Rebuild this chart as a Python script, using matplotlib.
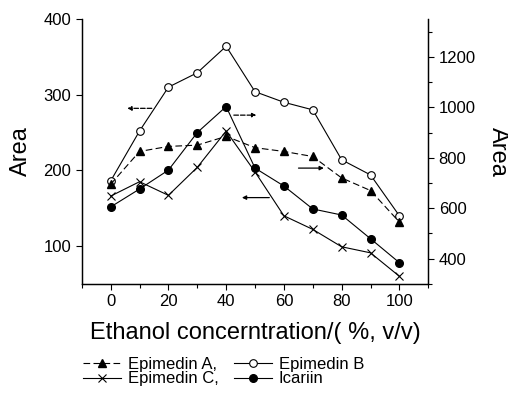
import numpy as np
import matplotlib.pyplot as plt
from matplotlib.lines import Line2D
from matplotlib.ticker import MultipleLocator

plt.rcParams['font.family'] = ['Liberation Sans', 'DejaVu Sans']

# ethanol concentration (% v/v)
ethanol = [0, 10, 20, 30, 40, 50, 60, 70, 80, 90, 100]
# peak areas, left axis
epimedin_b = [186, 252, 310, 329, 364, 304, 290, 280, 214, 194, 140]
epimedin_c = [166, 185, 167, 204, 252, 198, 140, 122, 99, 91, 60]
# peak areas, right axis
epimedin_a = [695, 825, 845, 850, 885, 840, 825, 805, 720, 670, 545]
icariin = [605, 676, 751, 900, 1003, 759, 688, 597, 573, 479, 384]

fig = plt.figure(figsize=(5.08, 3.97), dpi=100)
ax1 = fig.add_axes([0.161, 0.285, 0.682, 0.667])
ax2 = ax1.twinx()

lw = 0.8
ax1.plot(ethanol, epimedin_b, color='black', lw=lw, marker='o', ms=5.5,
         mfc='white', mec='black', mew=0.8)
ax1.plot(ethanol, epimedin_c, color='black', lw=lw, marker='x', ms=6, mew=0.8)
ax2.plot(ethanol, epimedin_a, color='black', lw=lw, ls=(0, (6, 3)),
         marker='^', ms=6)
ax2.plot(ethanol, icariin, color='black', lw=lw, marker='o', ms=5.5)

# arrows showing which axis each curve belongs to
arr = dict(arrowstyle='-|>', color='black', lw=0.9, mutation_scale=6)
ax1.annotate('', xy=(4.8, 282), xytext=(15.2, 282), arrowprops=dict(arr, ls='--'))
ax1.annotate('', xy=(51.4, 273), xytext=(41.7, 273), arrowprops=dict(arr, ls='--'))
ax1.annotate('', xy=(74.8, 203), xytext=(64.1, 203), arrowprops=arr)
ax1.annotate('', xy=(44.5, 164), xytext=(55.9, 164), arrowprops=arr)

ax1.set_xlim(-10, 110)
ax1.set_ylim(50, 400)
ax2.set_ylim(300, 1350)

ax1.xaxis.set_major_locator(MultipleLocator(20))
ax1.xaxis.set_minor_locator(MultipleLocator(10))
ax1.yaxis.set_major_locator(MultipleLocator(100))
ax2.yaxis.set_major_locator(MultipleLocator(200))
ax2.yaxis.set_minor_locator(MultipleLocator(100))

for ax in (ax1, ax2):
    ax.spines['top'].set_visible(False)
    ax.tick_params(labelsize=12, length=4, width=0.8)
    ax.tick_params(which='minor', length=3, width=0.8)
    for s in ax.spines.values():
        s.set_linewidth(0.9)

ax1.set_xlabel('Ethanol concerntration/( %, v/v)', fontsize=17, labelpad=9)
ax1.set_ylabel('Area', fontsize=17, labelpad=8)
ax2.set_ylabel('Area', fontsize=17, rotation=270, labelpad=24)

handles = [
    Line2D([], [], color='black', lw=lw, ls=(0, (6, 3)), marker='^', ms=6),
    Line2D([], [], color='black', lw=lw, marker='x', ms=6, mew=0.8),
    Line2D([], [], color='black', lw=lw, marker='o', ms=5.5, mfc='white', mew=0.8),
    Line2D([], [], color='black', lw=lw, marker='o', ms=5.5),
]
labels = ['Epimedin A,', 'Epimedin C,', 'Epimedin B', 'Icariin']
fig.legend(handles, labels, ncol=2, loc='upper left', bbox_to_anchor=(0.163, 0.1),
           frameon=False, fontsize=12, handlelength=2.3, handletextpad=0.4,
           columnspacing=0.9, labelspacing=-0.05, borderpad=0, borderaxespad=0)

fig.savefig('out.png', dpi=100)
